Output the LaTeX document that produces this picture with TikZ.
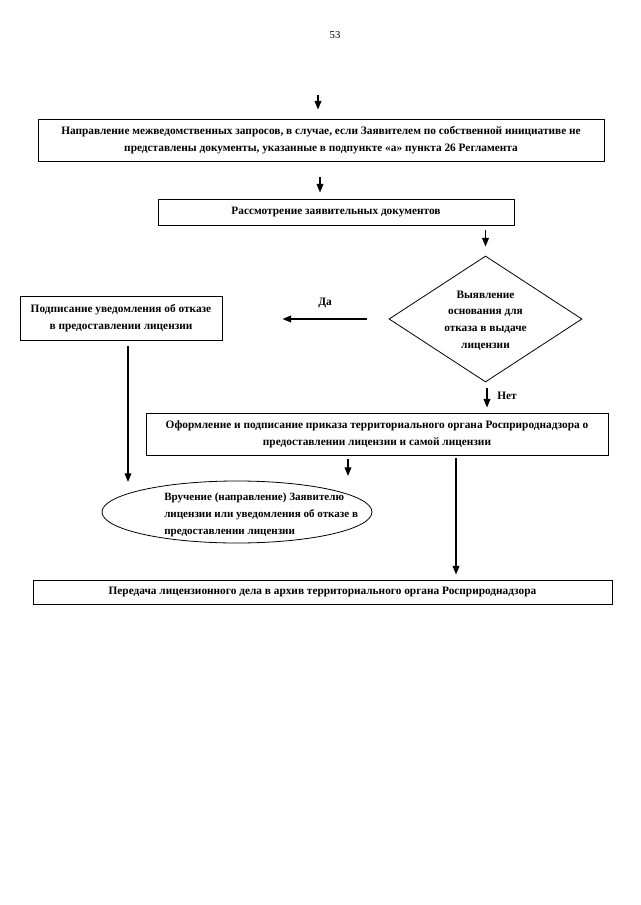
\documentclass[tikz,border=0pt]{standalone}
\usepackage{fontspec}
\setmainfont{Liberation Serif}
\usetikzlibrary{shapes.geometric,arrows.meta}

\tikzset{
  blk/.style={draw, line width=0.6pt, inner sep=0.75pt, align=center, font=\fontsize{8.5}{12.5}\selectfont\bfseries},
  lbl/.style={inner sep=0.75pt, font=\fontsize{8.5}{12.5}\selectfont\bfseries},
  arr/.style={line width=1.2pt, -{Triangle[length=6.5pt,width=5pt]}}
}

\begin{document}
\begin{tikzpicture}[x=0.75pt,y=0.75pt,yscale=-1,xscale=1]
\useasboundingbox (0,0) rectangle (640,905);

% Page number
\node [inner sep=0.75pt, font=\fontsize{8}{10}\selectfont] (pagenum) at (335,35) {53};

%Shape: Rectangle [id:napr]
\node [blk, minimum width=424.5pt, minimum height=31.5pt] (napr) at (321,140) {Направление межведомственных запросов, в случае, если Заявителем по собственной инициативе не\\ представлены документы, указанные в подпункте «а» пункта 26 Регламента};
%Shape: Rectangle [id:rass]
\node [blk, minimum width=267pt, minimum height=19.5pt] (rass) at (336,212) {Рассмотрение заявительных документов};
%Shape: Diamond [id:vyyav]
\node [draw, line width=0.6pt, shape=diamond, aspect=1.5, inner sep=0pt, minimum width=144.75pt, minimum height=94.5pt] (vyyav) at (485.5,319) {};
% Text Node
\node [lbl, align=center] (vyyavtext) at (485.5,320.5) {Выявление\\ основания для\\ отказа в выдаче\\ лицензии};
%Shape: Rectangle [id:podp]
\node [blk, minimum width=151.5pt, minimum height=33pt] (podp) at (121,318) {Подписание уведомления об отказе\\ в предоставлении лицензии};
%Shape: Rectangle [id:oform]
\node [blk, minimum width=346.5pt, minimum height=31.5pt] (oform) at (377,434) {Оформление и подписание приказа территориального органа Росприроднадзора о\\ предоставлении лицензии и самой лицензии};
%Shape: Ellipse [id:vruch]
\node [draw, line width=0.6pt, ellipse, inner sep=0pt, minimum width=202.5pt, minimum height=46.5pt] (vruch) at (237,512) {};
% Text Node
\node [lbl, anchor=west, align=left, font=\fontsize{8.3}{12.7}\selectfont\bfseries] (vruchtext) at (163,514.5) {Вручение (направление) Заявителю\\ лицензии или уведомления об отказе в\\ предоставлении лицензии};
%Shape: Rectangle [id:pered]
\node [blk, minimum width=434.25pt, minimum height=18pt] (pered) at (322.5,592) {Передача лицензионного дела в архив территориального органа Росприроднадзора};

% Free ends
\coordinate (in1) at (318,95);
\coordinate (podpend) at (128,482);
\coordinate (vruchend) at (348,476);

%Straight Lines
\draw [arr, shorten >=6.75pt] (in1) -- (in1 |- napr.north);
\draw [arr, shorten <=12pt, shorten >=4.5pt] (napr.south -| 320,0) -- (rass.north -| 320,0);
\draw [arr, shorten <=3.75pt, shorten >=6.75pt] (rass.south -| vyyav.north) -- (vyyav.north);
\draw [arr, shorten <=16.5pt, shorten >=45pt] (vyyav.west) -- (podp.east |- vyyav.west);
\draw [arr, shorten <=4.5pt, shorten >=3.75pt] (vyyav.south -| 487,0) -- (oform.north -| 487,0);
\draw [arr, shorten <=4.5pt] (podp.south -| podpend) -- (podpend);
\draw [arr, shorten <=3pt] (oform.south -| vruchend) -- (vruchend);
\draw [arr, shorten <=2.25pt, shorten >=3.75pt] (oform.south -| 456,0) -- (pered.north -| 456,0);

% Text Node
\node [lbl] (da) at (325,303) {Да};
% Text Node
\node [lbl, anchor=west] (net) at (496,396) {Нет};

\end{tikzpicture}
\end{document}
